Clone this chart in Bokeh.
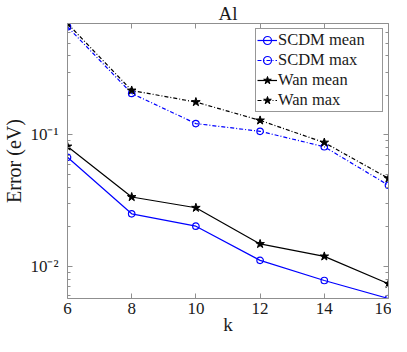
from bokeh.plotting import figure
from bokeh.models import Range1d, FixedTicker, LogAxis, LinearAxis, Legend, LegendItem, Title
from bokeh.embed import file_html
from bokeh.resources import INLINE

# ---- data ----
k = [6, 8, 10, 12, 14, 16]
scdm_mean = [0.0676, 0.0251, 0.0202, 0.0111, 0.0078, 0.00569]
scdm_max = [0.665, 0.207, 0.122, 0.1066, 0.0813, 0.0414]
wan_mean = [0.0817, 0.0337, 0.0279, 0.0148, 0.0119, 0.00736]
wan_max = [0.705, 0.218, 0.178, 0.129, 0.0875, 0.0467]
series_names = ["SCDM mean", "SCDM max", "Wan mean", "Wan max"]
x_ticks = [6, 8, 10, 12, 14, 16]
y_ticks = [0.01, 0.1]
y_tick_labels = ["10\u207b\u00b2", "10\u207b\u00b9"]
title_text = "Al"
x_label = "k"
y_label = "Error (eV)"

FONT = "'Liberation Serif'"
AXIS_COLOR = "#8f8f8f"
TEXT_COLOR = "#1a1a1a"
BLUE = "#0000ff"
BLACK = "#000000"

all_vals = scdm_mean + scdm_max + wan_mean + wan_max
ymin, ymax = min(all_vals), max(all_vals)

minor = [m * 10.0 ** e for e in (-3, -2, -1, 0) for m in range(2, 10)]
minor = [v for v in minor if ymin <= v <= ymax]

p = figure(width=391, height=336, y_axis_type="log",
           x_range=Range1d(min(k), max(k)), y_range=Range1d(ymin, ymax),
           output_backend="svg", toolbar_location=None,
           min_border_left=62, min_border_right=3, min_border_top=18, min_border_bottom=38)
p.background_fill_color = "white"
p.border_fill_color = "white"
p.outline_line_color = None
p.xgrid.visible = False
p.ygrid.visible = False

p.title.text = title_text
p.title.align = "center"
p.title.text_font = FONT
p.title.text_font_size = "19px"
p.title.text_font_style = "normal"
p.title.text_color = TEXT_COLOR
p.title.standoff = 0

yticker = FixedTicker(ticks=y_ticks, minor_ticks=minor)
xticker = FixedTicker(ticks=x_ticks, minor_ticks=[])

left = p.yaxis[0]
bottom = p.xaxis[0]

right_axis = LogAxis(ticker=yticker)
top_axis = LinearAxis(ticker=xticker)
p.add_layout(right_axis, "right")
p.add_layout(top_axis, "above")

def style_axis(ax, show_labels, ticks):
    ax.axis_line_color = AXIS_COLOR
    ax.major_tick_line_color = AXIS_COLOR
    ax.minor_tick_line_color = AXIS_COLOR
    ax.major_tick_in = 5
    ax.major_tick_out = 0
    ax.minor_tick_in = 3
    ax.minor_tick_out = 0
    ax.major_label_text_font = FONT
    ax.major_label_text_color = TEXT_COLOR
    ax.axis_label_text_font = FONT
    ax.axis_label_text_font_style = "normal"
    ax.axis_label_text_color = TEXT_COLOR
    if show_labels:
        ax.major_label_text_font_size = "17px"
        ax.axis_label_text_font_size = "20px"
    else:
        ax.major_label_text_font_size = "1px"
        ax.major_label_overrides = {t: "" for t in ticks}
        ax.major_label_standoff = 0

left.ticker = yticker
bottom.ticker = xticker
style_axis(left, True, y_ticks)
style_axis(bottom, True, x_ticks)
style_axis(right_axis, False, y_ticks)
style_axis(top_axis, False, x_ticks)
left.major_label_overrides = {t: s for t, s in zip(y_ticks, y_tick_labels)}
left.major_label_standoff = 9
left.axis_label_standoff = 2
left.axis_label = y_label
bottom.major_label_standoff = 4
bottom.axis_label = None

xlabel_title = Title(text=x_label, align="center", text_font=FONT, text_font_size="19px",
                     text_font_style="normal", text_color=TEXT_COLOR, standoff=-9)
p.add_layout(xlabel_title, "below")

lw = 1.2
dd = "4 2 1 2"
r1l = p.line(k, scdm_mean, line_color=BLUE, line_width=lw)
r1m = p.scatter(k, scdm_mean, marker="circle", size=6.5, line_color=BLUE, fill_color=None, line_width=lw)
r2l = p.line(k, scdm_max, line_color=BLUE, line_width=lw, line_dash=dd)
r2m = p.scatter(k, scdm_max, marker="circle", size=6.5, line_color=BLUE, fill_color=None, line_width=lw)
r3l = p.line(k, wan_mean, line_color=BLACK, line_width=lw)
r3m = p.scatter(k, wan_mean, marker="star", size=9, line_color=BLACK, fill_color=BLACK, line_width=1)
r4l = p.line(k, wan_max, line_color=BLACK, line_width=lw, line_dash=dd)
r4m = p.scatter(k, wan_max, marker="star", size=9, line_color=BLACK, fill_color=BLACK, line_width=1)

legend = Legend(items=[
    LegendItem(label=series_names[0], renderers=[r1l, r1m]),
    LegendItem(label=series_names[1], renderers=[r2l, r2m]),
    LegendItem(label=series_names[2], renderers=[r3l, r3m]),
    LegendItem(label=series_names[3], renderers=[r4l, r4m]),
], location="top_right")
legend.label_text_font = FONT
legend.label_text_font_size = "16.5px"
legend.label_text_color = TEXT_COLOR
legend.glyph_width = 20
legend.glyph_height = 20
legend.label_height = 20
legend.label_width = 103
legend.label_standoff = 1
legend.spacing = 0
legend.padding = 1
legend.margin = 5
legend.border_line_color = "#303030"
legend.border_line_width = 1
legend.background_fill_color = "white"
legend.background_fill_alpha = 1.0
p.add_layout(legend)

open("out.html", "w").write(file_html(p, INLINE))
